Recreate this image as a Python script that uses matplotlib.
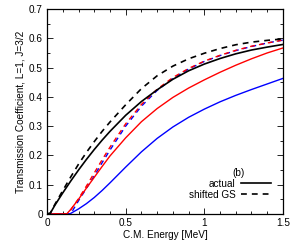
import matplotlib
matplotlib.use("Agg")
import matplotlib.pyplot as plt
from matplotlib.ticker import MultipleLocator, FormatStrFormatter

# C.M. energy [MeV] and transmission coefficients
E_black = [0.0, 0.02, 0.05, 0.1, 0.15, 0.2, 0.25, 0.3, 0.35, 0.4, 0.5, 0.6, 0.7, 0.8, 0.9, 1.0, 1.1, 1.2, 1.3, 1.4, 1.5]
T_black = [0.0, 0.002, 0.03, 0.072, 0.112, 0.15, 0.186, 0.22, 0.252, 0.282, 0.337, 0.384, 0.424, 0.46, 0.489, 0.512, 0.531, 0.547, 0.56, 0.57, 0.579]
T_black_gs = [0.0, 0.002, 0.033, 0.08, 0.126, 0.17, 0.21, 0.247, 0.282, 0.314, 0.373, 0.428, 0.472, 0.505, 0.53, 0.549, 0.565, 0.578, 0.587, 0.593, 0.598]

E_red = [0.0, 0.125, 0.15, 0.2, 0.25, 0.3, 0.35, 0.4, 0.5, 0.6, 0.7, 0.8, 0.9, 1.0, 1.1, 1.2, 1.3, 1.4, 1.5]
T_red = [0.0, 0.0, 0.015, 0.05, 0.088, 0.125, 0.162, 0.198, 0.26, 0.315, 0.36, 0.398, 0.43, 0.458, 0.484, 0.508, 0.53, 0.55, 0.567]

E_red_gs = [0.0, 0.13, 0.15, 0.2, 0.25, 0.3, 0.35, 0.4, 0.5, 0.6, 0.7, 0.8, 0.9, 1.0, 1.1, 1.2, 1.3, 1.4, 1.5]
T_red_gs = [0.0, 0.0, 0.013, 0.052, 0.095, 0.14, 0.185, 0.228, 0.308, 0.374, 0.426, 0.466, 0.497, 0.522, 0.542, 0.559, 0.573, 0.584, 0.594]

E_blue = [0.0, 0.145, 0.2, 0.25, 0.3, 0.35, 0.4, 0.5, 0.6, 0.7, 0.8, 0.9, 1.0, 1.1, 1.2, 1.3, 1.4, 1.5]
T_blue = [0.0, 0.0, 0.017, 0.035, 0.056, 0.08, 0.106, 0.16, 0.212, 0.258, 0.297, 0.33, 0.358, 0.383, 0.405, 0.425, 0.444, 0.463]

E_blue_gs = [0.0, 0.15, 0.2, 0.25, 0.3, 0.35, 0.4, 0.5, 0.6, 0.7, 0.8, 0.9, 1.0, 1.1, 1.2, 1.3, 1.4, 1.5]
T_blue_gs = [0.0, 0.0, 0.045, 0.087, 0.13, 0.175, 0.218, 0.3, 0.368, 0.422, 0.463, 0.495, 0.521, 0.541, 0.558, 0.572, 0.584, 0.594]

plt.rcParams.update({"font.family": "Liberation Sans", "font.size": 7.2})
fig = plt.figure(figsize=(3.0, 2.45), dpi=100)
ax = fig.add_axes([0.157, 0.127, 0.786, 0.836])

dash = (0, (3.5, 3))
lw = 1.0
ax.plot(E_blue, T_blue, color="blue", lw=lw)
ax.plot(E_blue_gs, T_blue_gs, color="blue", lw=lw, ls=dash)
ax.plot(E_red, T_red, color="red", lw=lw)
ax.plot(E_red_gs, T_red_gs, color="red", lw=lw, ls=(1.5, (3.5, 3)))
l1, = ax.plot(E_black, T_black, color="black", lw=1.2, label="actual")
l2, = ax.plot(E_black, T_black_gs, color="black", lw=1.2, ls=dash, label="shifted GS")

ax.set_xlim(0, 1.5)
ax.set_ylim(0, 0.7)
ax.xaxis.set_major_locator(MultipleLocator(0.5))
ax.xaxis.set_minor_locator(MultipleLocator(0.1))
ax.yaxis.set_major_locator(MultipleLocator(0.1))
ax.yaxis.set_minor_locator(MultipleLocator(0.05))
ax.xaxis.set_major_formatter(FormatStrFormatter("%g"))
ax.yaxis.set_major_formatter(FormatStrFormatter("%g"))
ax.tick_params(which="both", direction="in", top=True, right=True, width=0.6, pad=3)
ax.tick_params(which="major", length=4)
ax.tick_params(which="minor", length=2)
for s in ax.spines.values():
    s.set_linewidth(0.9)

ax.set_xlabel("C.M. Energy [MeV]", labelpad=1.5)
ax.set_ylabel("Transmission Coefficient, L=1, J=3/2", labelpad=2.5)
ax.text(0.81, 0.2, "(b)", transform=ax.transAxes, ha="center", va="center")

ax.legend(handles=[l1, l2], loc="lower right", markerfirst=False, frameon=False,
          handlelength=3.0, handletextpad=0.6, labelspacing=0.1,
          borderaxespad=0.4, bbox_to_anchor=(0.985, 0.03))

fig.savefig("out.png", dpi=100)
